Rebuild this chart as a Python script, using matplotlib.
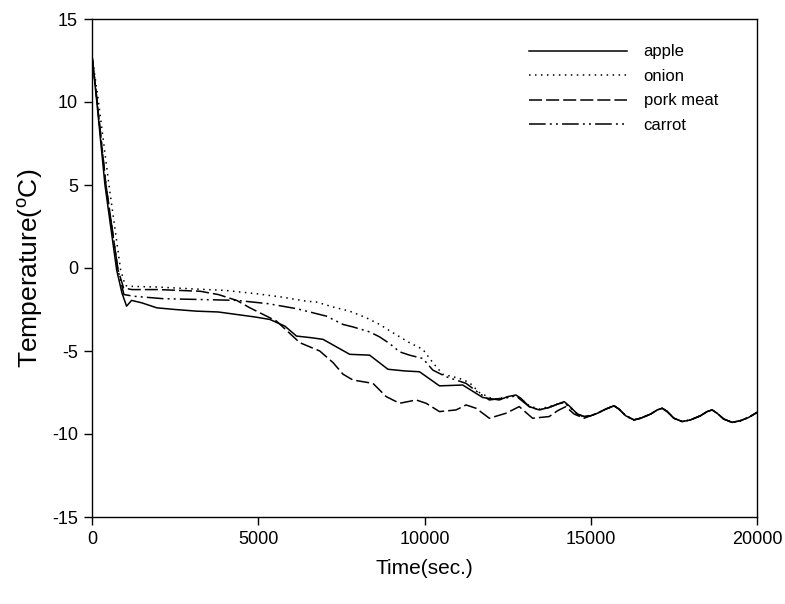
import matplotlib
matplotlib.use("Agg")
import matplotlib.pyplot as plt

plt.rcParams['font.family'] = ['Liberation Sans', 'DejaVu Sans']
plt.rcParams['lines.scale_dashes'] = False
plt.rcParams['axes.unicode_minus'] = False

# shared tail, all four curves sit on top of each other after ~15000 s
tail_t = [15000, 15200, 15450, 15700, 15850, 16050, 16300, 16500, 16800, 17000, 17150, 17300, 17500,
          17750, 18000, 18300, 18500, 18650, 18800, 19000, 19250, 19500, 19750, 20000]
tail_T = [-8.9, -8.75, -8.5, -8.3, -8.5, -8.9, -9.15, -9.05, -8.8, -8.55, -8.45, -8.65, -9.05,
          -9.25, -9.15, -8.9, -8.65, -8.55, -8.75, -9.1, -9.3, -9.2, -9.0, -8.7]

apple_t = [0, 140, 390, 740, 900, 1040, 1190, 1500, 1950, 2500, 3150, 3800, 4350, 4900, 5350,
           5800, 6150, 6600, 6950, 7350, 7750, 8350, 8900, 9400, 9850, 10450, 11150, 11750,
           12250, 12500, 12750, 12900, 13150, 13450, 13750, 14000, 14200, 14350, 14600, 14800]
apple_T = [12.8, 10.1, 5.0, -0.1, -1.5, -2.3, -1.95, -2.1, -2.4, -2.5, -2.6, -2.65, -2.8, -2.95, -3.1,
           -3.5, -4.1, -4.2, -4.3, -4.75, -5.2, -5.25, -6.1, -6.2, -6.25, -7.1, -7.05, -7.8,
           -7.95, -7.75, -7.65, -7.85, -8.35, -8.55, -8.4, -8.2, -8.05, -8.3, -8.8, -8.95]

onion_t = [0, 190, 510, 860, 1000, 1100, 2000, 2950, 4000, 4950, 5700, 6450, 6750, 7250, 7750,
           8250, 8650, 9050, 9550, 9950, 10250, 10550, 11050, 11350, 11650, 12050, 12500, 12750,
           12900, 13150, 13450, 13750, 14000, 14200, 14350, 14600, 14800]
onion_T = [12.8, 10.1, 5.0, -0.1, -1.05, -1.1, -1.15, -1.25, -1.35, -1.55, -1.75, -2.0, -2.05, -2.35, -2.6,
           -3.0, -3.4, -3.9, -4.5, -4.9, -5.7, -6.4, -6.65, -6.9, -7.5, -7.9, -7.8, -7.7,
           -7.9, -8.3, -8.5, -8.35, -8.2, -8.1, -8.35, -8.8, -8.95]

pork_t = [0, 150, 420, 780, 950, 1200, 2000, 3250, 3800, 4350, 4750, 5550, 6250, 6850, 7250,
          7550, 7850, 8450, 8850, 9250, 9750, 10050, 10450, 10950, 11250, 11550, 11950, 12450,
          12850, 13050, 13250, 13750, 14000, 14250, 14500, 14800]
pork_T = [12.8, 10.1, 5.0, -0.1, -1.2, -1.3, -1.3, -1.4, -1.6, -1.95, -2.4, -3.2, -4.5, -5.0, -5.7,
          -6.4, -6.75, -6.95, -7.75, -8.15, -7.95, -8.15, -8.65, -8.55, -8.25, -8.45, -9.05, -8.75,
          -8.35, -8.7, -9.05, -8.95, -8.6, -8.35, -8.8, -9.05]

carrot_t = [0, 150, 420, 780, 960, 1250, 2150, 3300, 4350, 5300, 6150, 6750, 7050, 7550, 7850,
            8350, 8650, 8950, 9250, 9550, 9950, 10250, 10650, 11250, 11650, 11950, 12500, 12750,
            12900, 13150, 13450, 13750, 14000, 14200, 14350, 14600, 14800]
carrot_T = [12.8, 10.1, 5.0, -0.1, -1.6, -1.7, -1.85, -1.9, -1.95, -2.15, -2.45, -2.75, -2.9, -3.4, -3.55,
            -3.85, -4.15, -4.55, -5.05, -5.25, -5.45, -6.15, -6.55, -6.95, -7.55, -7.95, -7.8, -7.7,
            -7.95, -8.35, -8.55, -8.4, -8.2, -8.1, -8.35, -8.8, -8.95]

labels = ['apple', 'onion', 'pork meat', 'carrot']
styles = ['-', (0, (1.1, 3.2)), (0, (9.4, 2.9)), (0, (12, 3, 1.4, 3, 1.4, 3))]

fig = plt.figure(figsize=(7.85, 6.04), dpi=100)
ax = fig.add_axes([92 / 785, 87 / 604, 665 / 785, 498 / 604])

series = [(apple_t, apple_T), (onion_t, onion_T), (pork_t, pork_T), (carrot_t, carrot_T)]
for (t, T), lab, ls in zip(series, labels, styles):
    ax.plot(t + tail_t, T + tail_T, color='black', lw=1.1, linestyle=ls, label=lab)

ax.set_xlim(0, 20000)
ax.set_ylim(-15, 15)
ax.set_xticks([0, 5000, 10000, 15000, 20000])
ax.set_yticks([-15, -10, -5, 0, 5, 10, 15])
ax.tick_params(direction='out', length=6, width=1, labelsize=13, pad=4)
for s in ax.spines.values():
    s.set_linewidth(1)

ax.set_xlabel('Time(sec.)', fontsize=15, labelpad=8)
ax.set_ylabel('Temperature($\\mathregular{^{o}}$C)', fontsize=19, labelpad=5)

ax.legend(loc='upper right', frameon=False, fontsize=12, handlelength=5.9,
          handletextpad=1.0, labelspacing=0.57, bbox_to_anchor=(0.964, 0.979))

fig.savefig('out.png', dpi=100)
